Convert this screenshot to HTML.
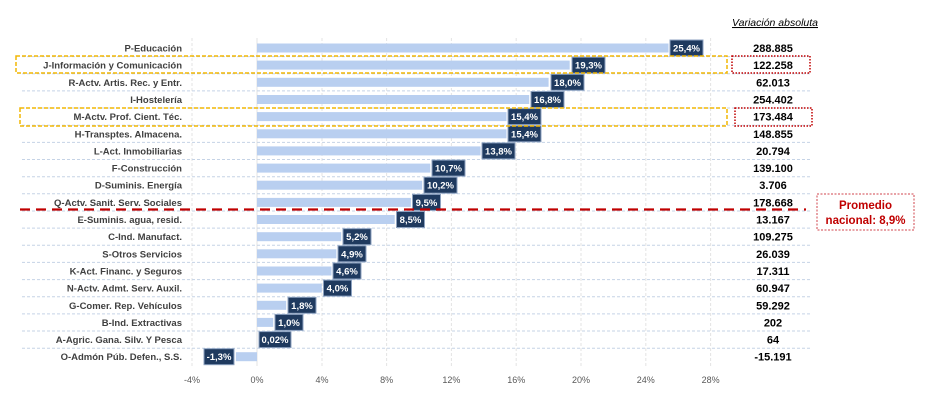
<!DOCTYPE html>
<html><head><meta charset="utf-8"><style>
body{margin:0;background:#fff}
svg{display:block;font-family:"Liberation Sans",sans-serif}
.l{font-size:9.5px;font-weight:bold;fill:#404040;text-anchor:end}
.v{font-size:11px;font-weight:bold;fill:#000;text-anchor:middle}
.b{fill:#b9cff0}
.k{fill:#1f3a5f;stroke:#8da2c0;stroke-width:1}
.t{font-size:9.5px;font-weight:bold;fill:#fff;text-anchor:middle}
.x{font-size:9px;fill:#595959;text-anchor:middle}
.g{stroke:#e3e3e3;stroke-dasharray:3,2;stroke-width:1}
.s{stroke:#c5d3e6;stroke-dasharray:3,2;stroke-width:1}
</style></head><body>
<svg width="936" height="403" viewBox="0 0 936 403">
<g>
<line class="g" x1="192" y1="38" x2="192" y2="366"/>
<line x1="257" y1="38" x2="257" y2="366" stroke="#e3e3e3"/>
<line class="g" x1="322" y1="38" x2="322" y2="366"/>
<line class="g" x1="386.6" y1="38" x2="386.6" y2="366"/>
<line class="g" x1="451.4" y1="38" x2="451.4" y2="366"/>
<line class="g" x1="516.2" y1="38" x2="516.2" y2="366"/>
<line class="g" x1="581" y1="38" x2="581" y2="366"/>
<line class="g" x1="645.8" y1="38" x2="645.8" y2="366"/>
<line class="g" x1="710.6" y1="38" x2="710.6" y2="366"/>
</g>
<g>
<line class="s" x1="22" x2="810" y1="56.6" y2="56.6"/>
<line class="s" x1="22" x2="810" y1="73.7" y2="73.7"/>
<line class="s" x1="22" x2="810" y1="90.9" y2="90.9"/>
<line class="s" x1="22" x2="810" y1="108" y2="108"/>
<line class="s" x1="22" x2="810" y1="125.2" y2="125.2"/>
<line class="s" x1="22" x2="810" y1="142.4" y2="142.4"/>
<line class="s" x1="22" x2="810" y1="159.5" y2="159.5"/>
<line class="s" x1="22" x2="810" y1="176.7" y2="176.7"/>
<line class="s" x1="22" x2="810" y1="193.8" y2="193.8"/>
<line class="s" x1="22" x2="810" y1="211" y2="211"/>
<line class="s" x1="22" x2="810" y1="228.1" y2="228.1"/>
<line class="s" x1="22" x2="810" y1="245.3" y2="245.3"/>
<line class="s" x1="22" x2="810" y1="262.4" y2="262.4"/>
<line class="s" x1="22" x2="810" y1="279.6" y2="279.6"/>
<line class="s" x1="22" x2="810" y1="296.7" y2="296.7"/>
<line class="s" x1="22" x2="810" y1="313.9" y2="313.9"/>
<line class="s" x1="22" x2="810" y1="331" y2="331"/>
<line class="s" x1="22" x2="810" y1="348.2" y2="348.2"/>
</g>
<g>
<text class="l" x="182" y="51.5">P-Educación</text>
<text class="l" x="182" y="68.6">J-Información y Comunicación</text>
<text class="l" x="182" y="85.8">R-Actv. Artis. Rec. y Entr.</text>
<text class="l" x="182" y="103">I-Hostelería</text>
<text class="l" x="182" y="120.1">M-Actv. Prof. Cient. Téc.</text>
<text class="l" x="182" y="137.3">H-Transptes. Almacena.</text>
<text class="l" x="182" y="154.4">L-Act. Inmobiliarias</text>
<text class="l" x="182" y="171.6">F-Construcción</text>
<text class="l" x="182" y="188.7">D-Suminis. Energía</text>
<text class="l" x="182" y="205.9">Q-Actv. Sanit. Serv. Sociales</text>
<text class="l" x="182" y="223">E-Suminis. agua, resid.</text>
<text class="l" x="182" y="240.2">C-Ind. Manufact.</text>
<text class="l" x="182" y="257.3">S-Otros Servicios</text>
<text class="l" x="182" y="274.5">K-Act. Financ. y Seguros</text>
<text class="l" x="182" y="291.6">N-Actv. Admt. Serv. Auxil.</text>
<text class="l" x="182" y="308.8">G-Comer. Rep. Vehículos</text>
<text class="l" x="182" y="325.9">B-Ind. Extractivas</text>
<text class="l" x="182" y="343.1">A-Agric. Gana. Silv. Y Pesca</text>
<text class="l" x="182" y="360.2">O-Admón Púb. Defen., S.S.</text>
</g>
<g>
<rect class="b" x="257" y="43.5" width="411.5" height="9"/>
<rect class="b" x="257" y="60.6" width="312.7" height="9"/>
<rect class="b" x="257" y="77.8" width="291.6" height="9"/>
<rect class="b" x="257" y="95" width="272.2" height="9"/>
<rect class="b" x="257" y="112.1" width="249.5" height="9"/>
<rect class="b" x="257" y="129.3" width="249.5" height="9"/>
<rect class="b" x="257" y="146.4" width="223.6" height="9"/>
<rect class="b" x="257" y="163.6" width="173.3" height="9"/>
<rect class="b" x="257" y="180.7" width="165.2" height="9"/>
<rect class="b" x="257" y="197.9" width="153.9" height="9"/>
<rect class="b" x="257" y="215" width="137.7" height="9"/>
<rect class="b" x="257" y="232.2" width="84.2" height="9"/>
<rect class="b" x="257" y="249.3" width="79.4" height="9"/>
<rect class="b" x="257" y="266.5" width="74.5" height="9"/>
<rect class="b" x="257" y="283.6" width="64.8" height="9"/>
<rect class="b" x="257" y="300.8" width="29.2" height="9"/>
<rect class="b" x="257" y="317.9" width="16.2" height="9"/>
<rect class="b" x="235.9" y="352.2" width="21.1" height="9"/>
</g>
<g>
<rect class="k" x="670" y="40" width="33" height="16"/><text class="t" x="686.5" y="51.5">25,4%</text>
<rect class="k" x="572" y="57.2" width="33" height="16"/><text class="t" x="588.5" y="68.6">19,3%</text>
<rect class="k" x="551" y="74.3" width="33" height="16"/><text class="t" x="567.5" y="85.8">18,0%</text>
<rect class="k" x="531" y="91.5" width="33" height="16"/><text class="t" x="547.5" y="103">16,8%</text>
<rect class="k" x="508" y="108.6" width="33" height="16"/><text class="t" x="524.5" y="120.1">15,4%</text>
<rect class="k" x="508" y="125.8" width="33" height="16"/><text class="t" x="524.5" y="137.3">15,4%</text>
<rect class="k" x="482" y="142.9" width="33" height="16"/><text class="t" x="498.5" y="154.4">13,8%</text>
<rect class="k" x="432" y="160.1" width="33" height="16"/><text class="t" x="448.5" y="171.6">10,7%</text>
<rect class="k" x="424" y="177.2" width="33" height="16"/><text class="t" x="440.5" y="188.7">10,2%</text>
<rect class="k" x="412.5" y="194.4" width="28" height="16"/><text class="t" x="426.5" y="205.9">9,5%</text>
<rect class="k" x="396.5" y="211.5" width="28" height="16"/><text class="t" x="410.5" y="223">8,5%</text>
<rect class="k" x="343" y="228.7" width="28" height="16"/><text class="t" x="357" y="240.2">5,2%</text>
<rect class="k" x="338" y="245.8" width="28" height="16"/><text class="t" x="352" y="257.3">4,9%</text>
<rect class="k" x="333" y="263" width="28" height="16"/><text class="t" x="347" y="274.5">4,6%</text>
<rect class="k" x="323.5" y="280.1" width="28" height="16"/><text class="t" x="337.5" y="291.6">4,0%</text>
<rect class="k" x="288" y="297.3" width="28" height="16"/><text class="t" x="302" y="308.8">1,8%</text>
<rect class="k" x="275" y="314.4" width="28" height="16"/><text class="t" x="289" y="325.9">1,0%</text>
<rect class="k" x="259" y="331.6" width="32" height="16"/><text class="t" x="275" y="343.1">0,02%</text>
<rect class="k" x="204" y="348.7" width="30" height="16"/><text class="t" x="219" y="360.2">-1,3%</text>
</g>
<g>
<text x="775" y="26" font-size="10.5" font-style="italic" fill="#000" text-anchor="middle" text-decoration="underline">Variación absoluta</text>
<text class="v" x="773" y="52">288.885</text>
<text class="v" x="773" y="69.1">122.258</text>
<text class="v" x="773" y="86.3">62.013</text>
<text class="v" x="773" y="103.5">254.402</text>
<text class="v" x="773" y="120.6">173.484</text>
<text class="v" x="773" y="137.8">148.855</text>
<text class="v" x="773" y="154.9">20.794</text>
<text class="v" x="773" y="172.1">139.100</text>
<text class="v" x="773" y="189.2">3.706</text>
<text class="v" x="773" y="206.4">178.668</text>
<text class="v" x="773" y="223.5">13.167</text>
<text class="v" x="773" y="240.7">109.275</text>
<text class="v" x="773" y="257.8">26.039</text>
<text class="v" x="773" y="275">17.311</text>
<text class="v" x="773" y="292.1">60.947</text>
<text class="v" x="773" y="309.3">59.292</text>
<text class="v" x="773" y="326.4">202</text>
<text class="v" x="773" y="343.6">64</text>
<text class="v" x="773" y="360.7">-15.191</text>
</g>
<rect x="16" y="56" width="711" height="17" fill="none" stroke="#f2b705" stroke-width="1.5" stroke-dasharray="4,2"/>
<rect x="20" y="108" width="707" height="18" fill="none" stroke="#f2b705" stroke-width="1.5" stroke-dasharray="4,2"/>
<rect x="732" y="56" width="78" height="17" fill="none" stroke="#c00000" stroke-width="1.5" stroke-dasharray="1.5,1.5"/>
<rect x="735" y="108" width="77" height="18" fill="none" stroke="#c00000" stroke-width="1.5" stroke-dasharray="1.5,1.5"/>
<line x1="20" y1="209.5" x2="806" y2="209.5" stroke="#c00000" stroke-width="2.2" stroke-dasharray="10,6"/>
<rect x="817" y="194" width="97" height="36" fill="#fff" stroke="#d0454c" stroke-width="1" stroke-dasharray="2,1.5"/>
<text x="865.5" y="209" font-size="11.5" font-weight="bold" fill="#c00000" text-anchor="middle">Promedio</text>
<text x="865.5" y="224" font-size="11.5" font-weight="bold" fill="#c00000" text-anchor="middle">nacional: 8,9%</text>
<g>
<text class="x" x="192" y="383">-4%</text>
<text class="x" x="257" y="383">0%</text>
<text class="x" x="322" y="383">4%</text>
<text class="x" x="386.6" y="383">8%</text>
<text class="x" x="451.4" y="383">12%</text>
<text class="x" x="516.2" y="383">16%</text>
<text class="x" x="581" y="383">20%</text>
<text class="x" x="645.8" y="383">24%</text>
<text class="x" x="710.6" y="383">28%</text>
</g>
</svg>
</body></html>
